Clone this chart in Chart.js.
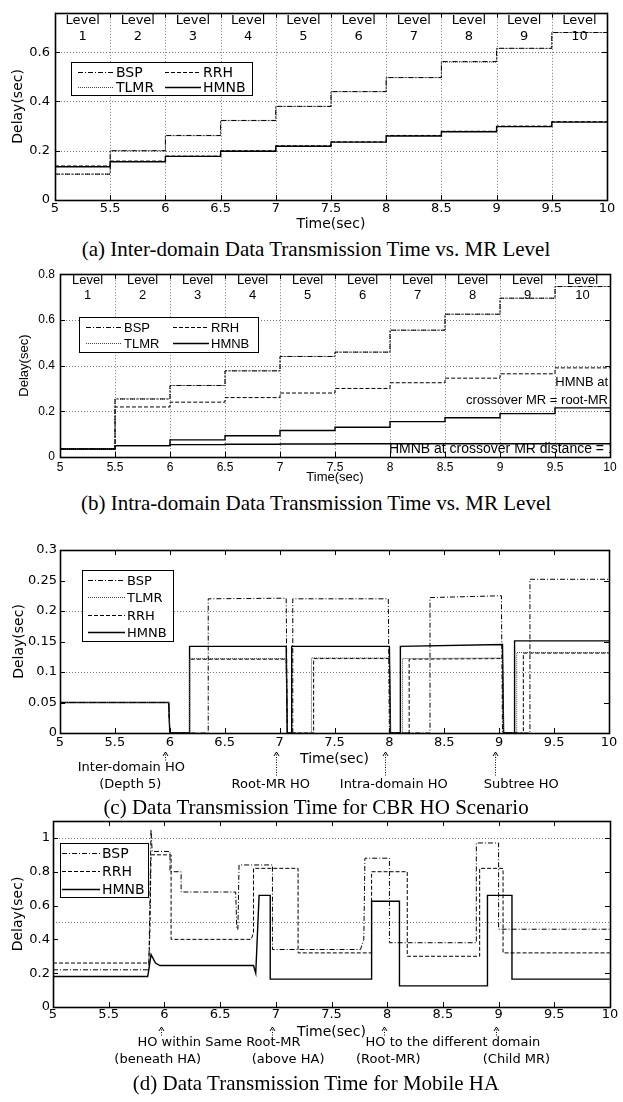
<!DOCTYPE html>
<html>
<head>
<meta charset="utf-8">
<script src="https://cdn.jsdelivr.net/npm/chart.js@4.4.1/dist/chart.umd.min.js"></script>
<style>
  body { margin: 0; background: #fff; width: 623px; height: 1102px; position: relative; overflow: hidden; }
  canvas { position: absolute; left: 0; }
  .cap { position: absolute; left: 0; width: 632px; text-align: center; font-family: "Liberation Serif", serif;
         font-size: 21px; line-height: 24px; color: #000; z-index: 2; white-space: nowrap; }
</style>
</head>
<body>
<canvas id="chartA" width="623" height="236" style="top:0px"></canvas>
<div class="cap" style="top:237px">(a) Inter-domain Data Transmission Time vs. MR Level</div>
<canvas id="chartB" width="623" height="223" style="top:262px"></canvas>
<div class="cap" style="top:491px">(b) Intra-domain Data Transmission Time vs. MR Level</div>
<canvas id="chartC" width="623" height="262" style="top:538px"></canvas>
<div class="cap" style="top:795px">(c) Data Transmission Time for CBR HO Scenario</div>
<canvas id="chartD" width="623" height="263" style="top:809px"></canvas>
<div class="cap" style="top:1071px">(d) Data Transmission Time for Mobile HA</div>

<script>
// ---- data ----
// start time of each MR level (sec)
const levelStart = [5, 5.5, 6, 6.5, 7, 7.5, 8, 8.5, 9, 9.5];
const levelNames = ["1", "2", "3", "4", "5", "6", "7", "8", "9", "10"];

// (a) inter-domain delay per level
const aBSP  = [0.105, 0.200, 0.262, 0.323, 0.380, 0.440, 0.497, 0.562, 0.616, 0.680];
const aTLMR = [0.105, 0.200, 0.261, 0.322, 0.380, 0.440, 0.497, 0.560, 0.615, 0.680];
const aRRH  = [0.138, 0.158, 0.178, 0.200, 0.220, 0.236, 0.262, 0.279, 0.300, 0.318];
const aHMNB = [0.135, 0.155, 0.177, 0.198, 0.218, 0.235, 0.260, 0.277, 0.298, 0.316];

// (b) intra-domain delay per level
const bBSP   = [0.035, 0.254, 0.313, 0.377, 0.440, 0.459, 0.555, 0.625, 0.695, 0.746];
const bTLMR  = [0.035, 0.254, 0.313, 0.377, 0.440, 0.459, 0.555, 0.625, 0.695, 0.746];
const bRRH   = [0.035, 0.219, 0.240, 0.260, 0.280, 0.300, 0.325, 0.345, 0.364, 0.390];
const bHMNB  = [0.035, 0.050, 0.075, 0.093, 0.116, 0.130, 0.155, 0.172, 0.190, 0.215];
const bHMNB1 = [0.035, 0.050, 0.054, 0.056, 0.057, 0.058, 0.058, 0.058, 0.058, 0.058];

// (c) CBR HO scenario, [time, delay]
const cBSP  = [[5,0.05],[5.99,0.05],[6,0],[6.35,0],[6.35,0.22],[7.06,0.221],[7.07,0],[7.12,0],[7.12,0.22],[7.99,0.22],[8,0],
               [8.37,0],[8.37,0.222],[9.02,0.225],[9.03,0],[9.28,0],[9.28,0.252],[10,0.252]];
const cTLMR = [[5,0.05],[5.99,0.05],[6,0],[6.18,0],[6.18,0.122],[7.06,0.122],[7.07,0],[7.29,0],[7.29,0.123],[8,0.123],[8.01,0],
               [8.12,0],[8.12,0.122],[9.03,0.123],[9.04,0],[9.16,0],[9.16,0.132],[10,0.132]];
const cRRH  = [[5,0.05],[5.99,0.05],[6,0],[6.18,0],[6.18,0.121],[7.06,0.121],[7.07,0],[7.31,0],[7.31,0.122],[8,0.122],[8.01,0],
               [8.18,0],[8.18,0.121],[9.03,0.122],[9.04,0],[9.22,0],[9.22,0.131],[10,0.131]];
const cHMNB = [[5,0.05],[5.99,0.05],[6,0],[6.18,0],[6.18,0.142],[7.06,0.142],[7.07,0],[7.11,0],[7.11,0.142],[8,0.142],[8.01,0],
               [8.1,0],[8.1,0.142],[9.03,0.145],[9.04,0],[9.14,0],[9.14,0.151],[10,0.151]];

// (d) mobile HA, [time, delay]
const dBSP  = [[5,0.22],[5.86,0.22],[5.88,1.05],[5.89,0.92],[6.05,0.92],[6.05,0.8],[6.15,0.8],[6.15,0.68],[6.64,0.68],
               [6.65,0.46],[6.66,0.46],[6.67,0.84],[6.97,0.84],[6.97,0.34],[7.76,0.34],[7.79,0.4],[7.8,0.88],[8.02,0.88],
               [8.02,0.38],[8.8,0.38],[8.8,0.97],[9.0,0.97],[9.0,0.46],[10,0.46]];
const dRRH  = [[5,0.26],[5.86,0.26],[5.87,0.45],[5.88,0.9],[6.06,0.9],[6.06,0.4],[6.78,0.4],[6.8,0.44],[6.8,0.82],[7.2,0.82],
               [7.2,0.32],[7.86,0.32],[7.86,0.8],[8.18,0.8],[8.18,0.3],[8.83,0.3],[8.83,0.82],[9.04,0.82],[9.04,0.32],[10,0.32]];
const dHMNB = [[5,0.18],[5.85,0.18],[5.86,0.22],[5.88,0.31],[5.92,0.26],[5.96,0.245],[6.8,0.245],[6.82,0.2],[6.85,0.66],
               [6.95,0.66],[6.95,0.165],[7.86,0.165],[7.86,0.625],[8.11,0.625],[8.11,0.125],[8.9,0.125],[8.9,0.66],
               [9.12,0.66],[9.12,0.165],[10,0.165]];

// ---- styles ----
const lineStyle = {
  BSP:  { dash: [5, 2, 1, 2], width: 1, color: "#000" },
  TLMR: { dash: [1, 1], width: 1, color: "#444" },
  RRH:  { dash: [4, 2], width: 1, color: "#000" },
  HMNB: { dash: [], width: 1.4, color: "#000" }
};

function levelPoints(vals) {
  const pts = levelStart.map((t, i) => ({ x: t, y: vals[i] }));
  pts.push({ x: 10, y: vals[vals.length - 1] });
  return pts;
}
function pairPoints(arr) {
  return arr.map(p => ({ x: p[0], y: p[1] }));
}
function ds(name, points, stepped) {
  const s = lineStyle[name];
  return {
    label: name, data: points, stepped: stepped ? "before" : false,
    borderColor: s.color, borderWidth: s.width, borderDash: s.dash,
    pointRadius: 0, tension: 0, fill: false
  };
}

function line(ctx, x1, y1, x2, y2) {
  ctx.beginPath(); ctx.moveTo(x1, y1); ctx.lineTo(x2, y2); ctx.stroke();
}

// grid, level labels, box with inward ticks, legend, notes
const framePlugin = {
  id: "frame",
  beforeDatasetsDraw(chart, args, o) {
    const { ctx, chartArea: a, scales: { x, y } } = chart;
    ctx.save();
    ctx.strokeStyle = "#777"; ctx.lineWidth = 1; ctx.setLineDash([1, 2]);
    (o.hGrid || []).forEach(v => { const py = Math.round(y.getPixelForValue(v)) + 0.5; line(ctx, a.left, py, a.right, py); });
    (o.vGrid || []).forEach(v => { const px = Math.round(x.getPixelForValue(v)) + 0.5; line(ctx, px, a.top, px, a.bottom); });
    ctx.setLineDash([]);
    if (o.levels) {
      ctx.fillStyle = "#000"; ctx.font = o.levels.font; ctx.textAlign = "center"; ctx.textBaseline = "middle";
      levelStart.forEach((t, i) => {
        const px = x.getPixelForValue(t + 0.25);
        ctx.fillText("Level", px, a.top + o.levels.dy1);
        ctx.fillText(levelNames[i], px, a.top + o.levels.dy2);
      });
    }
    ctx.restore();
  },
  afterDatasetsDraw(chart, args, o) {
    const { ctx, chartArea: a, scales: { x, y } } = chart;
    ctx.save();
    // inward ticks
    ctx.strokeStyle = "#000"; ctx.lineWidth = 1; ctx.setLineDash([]);
    x.ticks.forEach(t => {
      const px = Math.round(x.getPixelForValue(t.value)) + 0.5;
      line(ctx, px, a.bottom, px, a.bottom - 5); line(ctx, px, a.top, px, a.top + 5);
    });
    y.ticks.forEach(t => {
      const py = Math.round(y.getPixelForValue(t.value)) + 0.5;
      line(ctx, a.left, py, a.left + 5, py); line(ctx, a.right, py, a.right - 5, py);
    });
    ctx.lineWidth = 1.6;
    ctx.strokeRect(Math.round(a.left) + 0.5, Math.round(a.top) + 0.5, Math.round(a.right - a.left), Math.round(a.bottom - a.top));

    // notes inside plot
    ctx.fillStyle = "#000"; ctx.textBaseline = "middle";
    (o.notes || []).forEach(n => {
      ctx.save();
      ctx.beginPath(); ctx.rect(a.left, a.top, a.right - a.left, a.bottom - a.top); ctx.clip();
      ctx.font = n.font; ctx.textAlign = n.align;
      let px = x.getPixelForValue(n.x);
      if (n.align === "right") px -= 2;
      ctx.fillText(n.text, px, y.getPixelForValue(n.y));
      ctx.restore();
    });

    // legend
    const L = o.legend;
    if (L) {
      const bx = Math.round(a.left + L.x), by = Math.round(a.top + L.y);
      ctx.fillStyle = "#fff"; ctx.fillRect(bx, by, L.w, L.h);
      ctx.strokeStyle = "#000"; ctx.lineWidth = 1; ctx.setLineDash([]);
      ctx.strokeRect(bx + 0.5, by + 0.5, L.w, L.h);
      ctx.font = L.font; ctx.textAlign = "left"; ctx.textBaseline = "middle";
      L.items.forEach(([name, col, row]) => {
        const s = lineStyle[name];
        const sx = bx + L.colX[col], sy = Math.round(by + L.rowY[row]) + 0.5;
        ctx.strokeStyle = s.color; ctx.lineWidth = s.width; ctx.setLineDash(s.dash);
        line(ctx, sx, sy, sx + L.len, sy);
        ctx.setLineDash([]); ctx.fillStyle = "#000";
        ctx.fillText(name, sx + L.len + 2, sy + 1);
      });
    }

    // arrows and labels under the axis
    if (o.marks) {
      ctx.strokeStyle = "#000"; ctx.fillStyle = "#000"; ctx.lineWidth = 1;
      o.marks.arrows.forEach(m => {
        const px = Math.round(x.getPixelForValue(m.x)) + 0.5;
        const top = a.bottom + o.marks.tip;
        ctx.setLineDash([1, 1.5]);
        line(ctx, px, top, px, a.bottom + m.end);
        ctx.setLineDash([]);
        ctx.beginPath(); ctx.moveTo(px - 2.5, top + 4); ctx.lineTo(px, top); ctx.lineTo(px + 2.5, top + 4); ctx.stroke();
      });
      ctx.font = o.marks.font; ctx.textAlign = "center"; ctx.textBaseline = "middle";
      o.marks.labels.forEach(m => ctx.fillText(m.text, x.getPixelForValue(m.x), a.bottom + m.dy));
    }
    ctx.restore();
  }
};

function makePanel(id, p) {
  const fontFam = p.family;
  return new Chart(document.getElementById(id), {
    type: "line",
    data: { datasets: p.datasets },
    options: {
      responsive: false, animation: false, devicePixelRatio: 1,
      layout: { padding: { left: 0, top: 12, right: p.padRight, bottom: p.padBottom } },
      scales: {
        x: {
          type: "linear", min: 5, max: 10,
          ticks: { stepSize: 0.5, padding: p.xTickPad, color: "#000", maxRotation: 0,
                   font: { family: fontFam, size: p.tickSize }, callback: v => String(Math.round(v * 100) / 100) },
          grid: { display: false, drawTicks: false }, border: { display: false },
          title: { display: true, text: "Time(sec)", color: "#000", font: { family: fontFam, size: p.titleSize },
                   padding: { top: 0, bottom: p.xTitlePad } },
          afterFit: s => { s.height = p.xHeight; }
        },
        y: {
          min: 0, max: p.yMax,
          ticks: { stepSize: p.yStep, includeBounds: false, padding: p.yTickPad, color: "#000",
                   font: { family: fontFam, size: p.tickSize }, callback: v => String(Math.round(v * 100) / 100) },
          grid: { display: false, drawTicks: false }, border: { display: false },
          title: { display: true, text: "Delay(sec)", color: "#000", font: { family: fontFam, size: p.titleSize },
                   padding: { top: p.yTitlePad, bottom: 0 } },
          afterFit: s => { s.width = p.yWidth; }
        }
      },
      plugins: {
        legend: { display: false },
        tooltip: { enabled: false },
        frame: p.frame
      }
    },
    plugins: [framePlugin]
  });
}

const dv = "'DejaVu Sans'";
const ar = "'Liberation Sans'";

makePanel("chartA", {
  family: "DejaVu Sans", tickSize: 13, titleSize: 14,
  padRight: 16, padBottom: 0, yWidth: 55, xHeight: 36,
  xTickPad: 1, xTitlePad: 3, yTickPad: 5, yTitlePad: 10,
  yMax: 0.76, yStep: 0.2,
  datasets: [
    ds("BSP", levelPoints(aBSP), true),
    ds("TLMR", levelPoints(aTLMR), true),
    ds("RRH", levelPoints(aRRH), true),
    ds("HMNB", levelPoints(aHMNB), true)
  ],
  frame: {
    hGrid: [0.2, 0.4, 0.6],
    vGrid: [5.5, 6, 6.5, 7, 7.5, 8, 8.5, 9, 9.5],
    levels: { font: "13px " + dv, dy1: 8, dy2: 24 },
    legend: { x: 16, y: 49, w: 181, h: 33, font: "14px " + dv, len: 36, colX: [7, 94], rowY: [10, 25],
              items: [["BSP", 0, 0], ["RRH", 1, 0], ["TLMR", 0, 1], ["HMNB", 1, 1]] }
  }
});

makePanel("chartB", {
  family: "Liberation Sans", tickSize: 12, titleSize: 13,
  padRight: 13, padBottom: 0, yWidth: 60, xHeight: 28,
  xTickPad: 3, xTitlePad: 0, yTickPad: 5, yTitlePad: 17,
  yMax: 0.8, yStep: 0.2,
  datasets: [
    ds("BSP", levelPoints(bBSP), true),
    ds("TLMR", levelPoints(bTLMR), true),
    ds("RRH", levelPoints(bRRH), true),
    ds("HMNB", levelPoints(bHMNB), true),
    ds("HMNB", levelPoints(bHMNB1), true)
  ],
  frame: {
    hGrid: [0.2, 0.4, 0.6],
    vGrid: [5.5, 6, 6.5, 7, 7.5, 8, 8.5, 9, 9.5],
    levels: { font: "13px " + ar, dy1: 6, dy2: 21 },
    notes: [
      { x: 10, y: 0.325, text: "HMNB at", align: "right", font: "13px " + ar },
      { x: 10, y: 0.246, text: "crossover MR = root-MR", align: "right", font: "13px " + ar },
      { x: 7.99, y: 0.036, text: "HMNB at crossover MR distance = 1", align: "left", font: "14px " + ar }
    ],
    legend: { x: 19, y: 43, w: 179, h: 35, font: "13px " + ar, len: 36, colX: [7, 94], rowY: [10, 26],
              items: [["BSP", 0, 0], ["RRH", 1, 0], ["TLMR", 0, 1], ["HMNB", 1, 1]] }
  }
});

makePanel("chartC", {
  family: "DejaVu Sans", tickSize: 13, titleSize: 14,
  padRight: 14, padBottom: 31, yWidth: 60, xHeight: 36,
  xTickPad: 2, xTitlePad: 1, yTickPad: 3, yTitlePad: 11,
  yMax: 0.3, yStep: 0.05,
  datasets: [
    ds("BSP", pairPoints(cBSP), false),
    ds("TLMR", pairPoints(cTLMR), false),
    ds("RRH", pairPoints(cRRH), false),
    ds("HMNB", pairPoints(cHMNB), false)
  ],
  frame: {
    hGrid: [0.1, 0.2],
    legend: { x: 22, y: 20, w: 91, h: 71, font: "13px " + dv, len: 37, colX: [6], rowY: [10, 27, 45, 62],
              items: [["BSP", 0, 0], ["TLMR", 0, 1], ["RRH", 0, 2], ["HMNB", 0, 3]] },
    marks: {
      font: "13px " + dv, tip: 19,
      arrows: [{ x: 5.96, end: 29 }, { x: 6.97, end: 43 }, { x: 7.96, end: 43 }, { x: 8.96, end: 43 }],
      labels: [
        { x: 5.65, dy: 35, text: "Inter-domain HO" },
        { x: 5.64, dy: 52, text: "(Depth 5)" },
        { x: 6.92, dy: 52, text: "Root-MR HO" },
        { x: 8.04, dy: 52, text: "Intra-domain HO" },
        { x: 9.2, dy: 52, text: "Subtree HO" }
      ]
    }
  }
});

makePanel("chartD", {
  family: "DejaVu Sans", tickSize: 13, titleSize: 14,
  padRight: 13, padBottom: 31, yWidth: 53, xHeight: 34,
  xTickPad: 0, xTitlePad: 0, yTickPad: 3, yTitlePad: 10,
  yMax: 1.1, yStep: 0.2,
  datasets: [
    ds("BSP", pairPoints(dBSP), false),
    ds("RRH", pairPoints(dRRH), false),
    ds("HMNB", pairPoints(dHMNB), false)
  ],
  frame: {
    hGrid: [0.5, 1.0],
    legend: { x: 7, y: 22, w: 88, h: 54, font: "14px " + dv, len: 38, colX: [2], rowY: [10, 28, 46],
              items: [["BSP", 0, 0], ["RRH", 0, 1], ["HMNB", 0, 2]] },
    marks: {
      font: "13px " + dv, tip: 20,
      arrows: [{ x: 5.97, end: 30 }, { x: 6.97, end: 30 }, { x: 7.97, end: 30 }, { x: 8.98, end: 30 }],
      labels: [
        { x: 6.49, dy: 36, text: "HO within Same Root-MR" },
        { x: 5.94, dy: 53, text: "(beneath HA)" },
        { x: 7.11, dy: 53, text: "(above HA)" },
        { x: 8.59, dy: 36, text: "HO to the different domain" },
        { x: 8.01, dy: 53, text: "(Root-MR)" },
        { x: 9.16, dy: 53, text: "(Child MR)" }
      ]
    }
  }
});
</script>
</body>
</html>
